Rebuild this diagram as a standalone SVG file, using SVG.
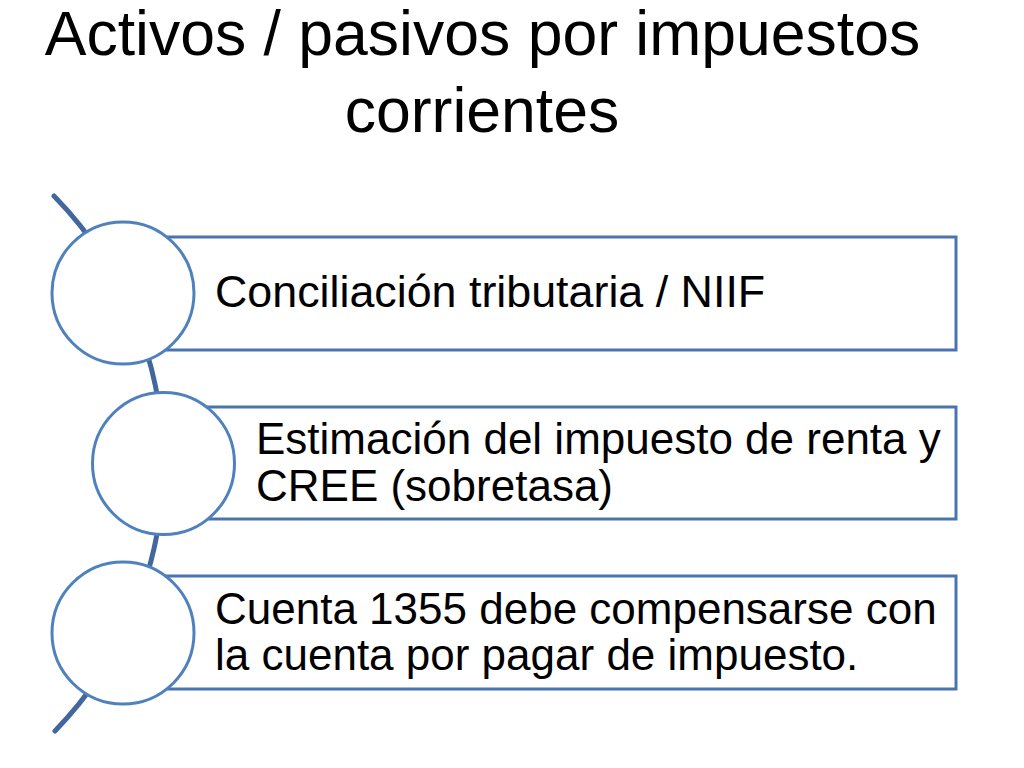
<svg xmlns="http://www.w3.org/2000/svg" width="1024" height="768" viewBox="0 0 1024 768">
<style>
.title{font-family:"Liberation Sans",Arial,sans-serif;font-size:62.5px;fill:#000;text-anchor:middle}
.body{font-family:"Liberation Sans",Arial,sans-serif;font-size:44px;fill:#000}
.box{fill:#fff;stroke:#4a74b0;stroke-width:3}
.dot{fill:#fff;stroke:#4f81bd;stroke-width:3}
.arc{fill:none;stroke:#41679c;stroke-width:5;stroke-linecap:round}
</style>
<rect width="1024" height="768" fill="#fff"/>
<g id="title">
<text class="title" x="482.5" y="55">Activos / pasivos por impuestos</text>
<text class="title" x="482" y="132">corrientes</text>
</g>
<g id="connectors">
<path class="arc" d="M 54 196 A 383 383 0 0 1 55 731"/>
</g>
<g id="node1">
<rect class="box" x="123" y="237" width="833" height="113"/>
<circle class="dot" cx="123" cy="293" r="71"/>
<text class="body" x="215" y="307" style="font-size:44.8px">Conciliación tributaria / NIIF</text>
</g>
<g id="node2">
<rect class="box" x="163" y="407" width="793" height="112"/>
<circle class="dot" cx="163.5" cy="463.5" r="71"/>
<text class="body" x="256" y="454">Estimación del impuesto de renta y</text>
<text class="body" x="256" y="501">CREE (sobretasa)</text>
</g>
<g id="node3">
<rect class="box" x="123" y="576" width="833" height="113"/>
<circle class="dot" cx="123" cy="633" r="71"/>
<text class="body" x="215" y="624">Cuenta 1355 debe compensarse con</text>
<text class="body" x="215" y="670">la cuenta por pagar de impuesto.</text>
</g>
</svg>
